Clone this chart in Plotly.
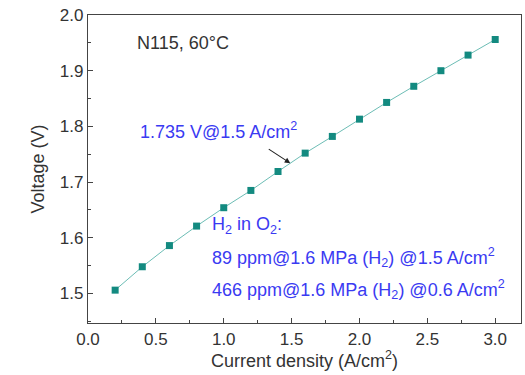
import plotly.graph_objects as go

current_density = [0.2, 0.4, 0.6, 0.8, 1.0, 1.2, 1.4, 1.6, 1.8, 2.0, 2.2, 2.4, 2.6, 2.8, 3.0]
voltage = [1.506, 1.548, 1.586, 1.621, 1.654, 1.685, 1.719, 1.752, 1.782, 1.813, 1.843, 1.872, 1.900, 1.928, 1.956]

x_ticks = [0.0, 0.5, 1.0, 1.5, 2.0, 2.5, 3.0]
y_ticks = [1.5, 1.6, 1.7, 1.8, 1.9, 2.0]

FONT = "Liberation Sans, Arial, sans-serif"
BLUE = "#3a3af2"

fig = go.Figure()
fig.add_trace(go.Scatter(
    x=current_density, y=voltage, mode="lines+markers",
    line=dict(color="#6cbdb5", width=1),
    marker=dict(symbol="square", size=7, color="#138a80"),
    showlegend=False,
))

axis_common = dict(
    showline=True, linecolor="#444", linewidth=1.2, mirror=True,
    ticks="inside", ticklen=5, tickcolor="#444", tickwidth=1,
    showgrid=False, zeroline=False,
    tickfont=dict(family=FONT, size=17, color="#333"),
    minor=dict(ticks="inside", ticklen=3, tickcolor="#444", showgrid=False),
)

fig.update_xaxes(
    range=[0, 3.19], tickvals=x_ticks, ticktext=[f"{v:.1f}" for v in x_ticks],
    title=dict(text="Current density (A/cm<sup>2</sup>)", font=dict(family=FONT, size=18, color="#333"), standoff=5),
    minor_dtick=0.25, **axis_common,
)
fig.update_yaxes(
    range=[1.447, 2.0], tickvals=y_ticks, ticktext=[f"{v:.1f}" for v in y_ticks],
    title=dict(text="Voltage (V)", font=dict(family=FONT, size=18, color="#333"), standoff=10),
    minor_dtick=0.05, **axis_common,
)

fig.add_annotation(x=0.347, y=1.949, xref="x", yref="y", text="N115, 60°C", showarrow=False,
                   xanchor="left", yanchor="middle", font=dict(family=FONT, size=18, color="#333"))
fig.add_annotation(x=0.369, y=1.793, xref="x", yref="y", text="1.735 V@1.5 A/cm<sup>2</sup>", showarrow=False,
                   xanchor="left", yanchor="middle", font=dict(family=FONT, size=18, color=BLUE))
fig.add_annotation(x=1.49, y=1.734, xref="x", yref="y", text="", showarrow=True,
                   ax=-23, ay=-15, arrowhead=2, arrowsize=1, arrowwidth=1.1, arrowcolor="#222")
fig.add_annotation(x=0.9, y=1.622, xref="x", yref="y", text="H<sub>2</sub> in O<sub>2</sub>:", showarrow=False,
                   xanchor="left", yanchor="middle", font=dict(family=FONT, size=18, color=BLUE))
fig.add_annotation(x=0.9, y=1.565, xref="x", yref="y", text="89 ppm@1.6 MPa (H<sub>2</sub>) @1.5 A/cm<sup>2</sup>", showarrow=False,
                   xanchor="left", yanchor="middle", font=dict(family=FONT, size=18, color=BLUE))
fig.add_annotation(x=0.9, y=1.508, xref="x", yref="y", text="466 ppm@1.6 MPa (H<sub>2</sub>) @0.6 A/cm<sup>2</sup>", showarrow=False,
                   xanchor="left", yanchor="middle", font=dict(family=FONT, size=18, color=BLUE))

fig.update_layout(
    width=525, height=375, margin=dict(l=88, r=4, t=15, b=52),
    plot_bgcolor="white", paper_bgcolor="white",
    font=dict(family=FONT),
)

fig.write_html("out.html")
